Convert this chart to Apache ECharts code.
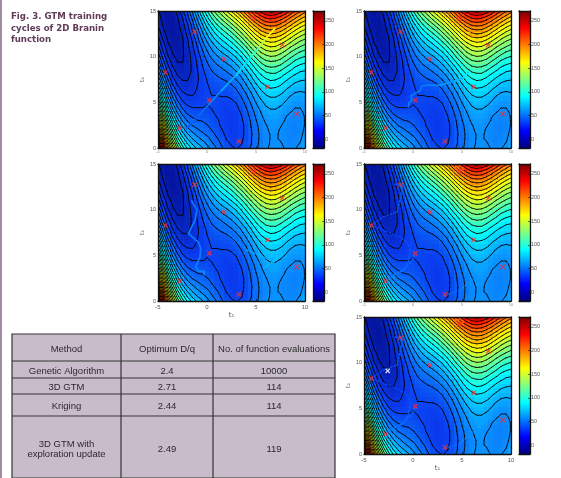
<!DOCTYPE html>
<html>
<head>
<meta charset="utf-8">
<style>
html,body{margin:0;padding:0;background:#fff}
#c{width:561px;height:478px;filter:blur(0.35px)}
</style>
<script src="https://cdn.jsdelivr.net/npm/echarts@6/dist/echarts.min.js"></script>
</head>
<body>
<div id="c"></div>
<script>
// Heights read across the map: one list per t1 column (-5 to 10, step .5), t2 from 0 to 15, step .5
const t1Columns=[-5,-4.5,-4,-3.5,-3,-2.5,-2,-1.5,-1,-.5,0,.5,1,1.5,2,2.5,3,3.5,4,4.5,5,5.5,6,6.5,7,7.5,8,8.5,9,9.5,10];
const t2Rows=[0,.5,1,1.5,2,2.5,3,3.5,4,4.5,5,5.5,6,6.5,7,7.5,8,8.5,9,9.5,10,10.5,11,11.5,12,12.5,13,13.5,14,14.5,15];
const fieldValues=[
[283,266,250,234,218,203,189,175,162,149,136,124,113,102,92,82,72,63,55,47,39,32,26,20,15,10,5,1,-2,-5,-7],
[234,219,204,189,175,162,149,136,124,113,102,91,81,72,63,54,46,38,31,25,19,13,8,4,0,-4,-7,-9,-11,-13,-14],
[192,178,164,151,138,126,114,103,93,82,73,64,55,47,39,32,25,19,13,8,3,-1,-4,-8,-10,-13,-14,-15,-16,-16,-16],
[157,144,131,119,108,97,87,77,67,58,50,42,35,28,21,15,10,5,1,-3,-7,-9,-12,-14,-15,-16,-16,-16,-16,-15,-13],
[128,116,105,94,84,75,65,57,48,41,34,27,21,15,10,5,1,-3,-6,-9,-11,-12,-14,-14,-15,-14,-13,-12,-10,-8,-5],
[106,96,86,76,67,58,50,43,36,29,23,18,13,8,4,1,-2,-5,-7,-9,-10,-10,-10,-10,-9,-7,-5,-3,0,4,8],
[90,81,72,63,55,48,41,34,28,23,18,14,10,6,3,1,-1,-3,-3,-4,-4,-3,-2,-1,1,4,7,10,15,19,24],
[78,70,62,55,48,41,35,30,25,21,17,13,10,8,6,5,4,3,3,4,5,6,9,11,14,18,22,26,31,37,43],
[70,62,55,49,43,37,32,28,24,21,18,15,13,12,11,10,10,11,12,13,15,18,21,24,28,33,38,44,50,56,63],
[63,56,50,44,39,35,31,27,24,21,19,18,17,16,16,16,17,19,21,23,26,29,33,38,43,48,54,60,67,75,83],
[56,50,45,40,36,32,29,26,24,22,21,20,20,20,21,22,24,26,29,32,36,40,45,50,56,62,69,76,84,92,101],
[48,43,39,35,31,28,26,24,22,21,21,21,22,23,24,26,29,32,35,39,44,49,54,60,67,74,81,89,98,107,116],
[41,36,33,29,27,24,23,21,20,20,20,21,22,24,26,29,32,36,40,45,50,56,62,69,76,84,92,101,110,119,130],
[33,30,27,24,22,20,19,18,18,19,19,21,23,25,28,31,35,39,44,50,55,62,69,76,84,92,101,110,120,130,141],
[27,24,21,19,18,17,16,16,16,17,19,21,23,26,29,33,38,43,48,54,60,67,75,83,91,100,109,119,130,141,152],
[23,20,18,17,15,15,15,15,16,18,20,22,25,28,32,37,42,47,53,59,66,74,82,90,99,108,118,129,140,151,163],
[21,19,17,16,16,16,16,17,18,20,22,25,29,32,37,42,47,53,59,66,73,81,90,99,108,118,128,139,150,162,175],
[23,21,20,19,19,19,20,21,23,25,27,31,34,39,43,49,54,61,67,75,82,91,99,109,118,129,139,150,162,174,187],
[27,25,24,24,24,24,25,27,29,32,35,38,42,47,52,57,63,70,77,85,93,101,110,120,130,140,151,163,175,188,201],
[33,31,31,30,31,32,33,35,37,40,43,47,51,56,61,67,73,80,87,95,104,112,122,131,142,152,164,176,188,201,214],
[39,38,38,38,38,39,41,43,45,48,52,56,60,65,71,77,83,90,97,105,114,123,132,142,153,164,175,187,200,213,226],
[46,45,44,44,45,46,48,50,52,56,59,63,68,73,79,85,91,98,106,114,123,132,141,151,162,173,185,197,209,222,236],
[50,50,49,49,50,51,53,55,58,61,64,69,73,78,84,90,97,104,112,120,128,138,147,157,168,179,191,203,216,229,242],
[53,52,52,52,53,54,55,58,60,63,67,71,76,81,87,93,99,106,114,122,131,140,150,160,170,182,193,205,218,231,245],
[54,53,52,52,53,54,56,58,60,63,67,71,75,80,86,92,99,106,113,121,130,139,149,159,169,180,192,204,216,229,243],
[53,52,51,51,51,52,54,56,58,61,64,68,73,78,83,89,95,102,110,118,126,135,144,154,165,176,187,199,211,224,238],
[51,50,49,49,49,50,51,52,55,57,61,64,69,73,78,84,90,97,104,112,120,129,138,148,158,169,180,192,204,217,230],
[50,48,47,47,47,47,48,50,52,54,57,60,64,69,74,79,85,92,99,106,114,122,131,141,151,161,172,184,195,208,221],
[51,49,48,47,46,46,47,48,50,52,54,58,61,65,70,75,81,87,93,100,108,116,125,134,143,154,164,175,187,199,212],
[54,52,50,49,48,48,48,49,50,52,54,57,60,64,68,73,78,83,90,96,104,111,120,128,137,147,157,168,179,191,203],
[61,58,56,54,53,52,52,52,53,54,56,58,61,64,68,72,77,82,88,94,101,108,116,124,133,142,152,162,173,184,196]
];
const contourLevels=[-8.5,1.5,11.5,21.5,31.5,41.5,51.5,61.5,71.5,81.5,91.5,101.5,111.5,121.5,131.5,141.5,151.5,161.5,171.5,181.5,191.5,201.5,211.5,221.5,231.5,241.5,251.5,261.5,271.5];
const sampleT1=[-1.27,4.74,7.69,1.72,-4.25,6.2,.23,9.15,-2.79,3.25];
const sampleT2=[12.73,14.2,11.27,9.73,8.27,6.7,5.23,3.73,2.2,.73];
const optimumT1=[-2.58];
const optimumT2=[9.1];
const colorbarTicks=[0,50,100,150,200,250];
// search paths: [t1, t2, height shown by the line colour]
const pathCycle1=[[-2.07,2.15,28],[-.8,3.6,34],[.2,4.8,40],[1.5,6.3,52],[3,8,68],[4.5,10,88],[5.3,11,120],[6,12,150],[6.94,13.1,175]];
const pathCycle2=[[-.47,4.5,42],[-.4,4.94,44],[-.1,5.3,44],[-.23,5.67,42],[.2,5.96,40],[.73,6.26,40],[.9,6.77,40],[1.58,6.88,42],[2.77,6.88,48],[4.3,7.35,60],[5.16,7.72,72],[5.67,8.34,88]];
const pathCycle2End=[[5.7,12.9,190],[5.85,12.55,195],[6.05,12.2,190]];
const pathCycle3=[[-.3,2.9,50],[-.3,3.26,50],[-.87,3.26,48],[-1.15,3.74,46],[-.7,4.84,44],[-.64,5.76,42],[-.87,6.42,42],[-1.9,7.41,44],[-1.2,8.88,44],[-1.05,9.98,42],[-1.56,10.97,40]];
const pathCycle3Faint=[[1,8.3,45],[2.36,7.2,48],[4.07,5.57,58],[6.8,4.3,72],[7.8,5.2,78],[5.77,3.55,62]];
const pathCycle4Right=[[7.89,4.1,65],[6.5,2.8,58],[4.8,1.17,45],[3.3,.62,30]];
const pathCycle4Left=[[-2.85,2.16,50],[-2,2.8,42],[-1,3.37,38],[-.47,4.3,36],[-.3,5.57,30],[-.47,6.3,28],[-1.3,7,24],[-2.85,7.66,18],[-4.2,8.3,25],[-3,9.24,18],[-1.66,9.7,30],[-.98,12.7,30],[-1.83,12.8,32]];
const pathCycle4Mid=[[.2,5,34],[-.25,4.2,36],[-1.1,3.3,38],[-2,2.8,40]];
const pathCycle4Top=[[4.3,14.7,200],[4.7,14.2,205],[5.1,14.4,210],[4.8,14.8,205],[4.3,14.7,200]];
const tableHeader=['Method','Optimum D/q','No. of function evaluations'];
const tableMethods=['Genetic Algorithm','3D GTM','Kriging','3D GTM with\nexploration update'];
const tableOptimum=['2.4','2.71','2.44','2.49'];
const tableEvaluations=['10000','114','114','119'];

const jet=['#00007f','#0000ff','#007fff','#00ffff','#7fff7f','#ffff00','#ff7f00','#ff0000','#7f0000'];
const fieldJet=['#04129a','#0a3cf0','#0a93ff','#00ffff','#7fff7f','#ffff00','#ff7f00','#ff0000','#7f0000'];
const colorMin=-19,colorMax=271;
const panels=[
 {x:158,y:11,w:147,h:137,cx:313,xName:false,xFont:4,paths:[[pathCycle1,null]]},
 {x:364,y:11,w:147,h:137,cx:519,xName:false,xFont:4,paths:[[pathCycle2,null],[pathCycle2End,[1.5,1]]]},
 {x:158,y:164,w:147,h:137,cx:313,xName:true,xFont:6,paths:[[pathCycle3,null],[pathCycle3Faint,[1.5,2]]]},
 {x:364,y:164,w:147,h:137,cx:519,xName:false,xFont:4,paths:[[pathCycle4Left,[1.5,2]],[pathCycle4Mid,[1.5,2]],[pathCycle4Right,[1.5,2]],[pathCycle4Top,[1.5,1.5]]]},
 {x:364,y:317,w:147,h:137,cx:519,xName:true,xFont:6,optimum:true,paths:[[pathCycle4Left,[1.5,2]],[pathCycle4Mid,[1.5,2]],[pathCycle4Right,[1.5,2]],[pathCycle4Top,[1.5,1.5]]]}
];

// contour segments through the read heights
function contourSegments(){
 const out=[];
 const cross=(x0,y0,v0,x1,y1,v1,l)=>{const k=(l-v0)/(v1-v0);return [x0+(x1-x0)*k,y0+(y1-y0)*k];};
 contourLevels.forEach(l=>{
  for(let i=0;i<t1Columns.length-1;i++)for(let j=0;j<t2Rows.length-1;j++){
   const x0=t1Columns[i],x1=t1Columns[i+1],y0=t2Rows[j],y1=t2Rows[j+1];
   const a=fieldValues[i][j],b=fieldValues[i+1][j],c=fieldValues[i+1][j+1],d=fieldValues[i][j+1];
   const p=[];
   if((a<l)!==(b<l))p.push(cross(x0,y0,a,x1,y0,b,l));
   if((b<l)!==(c<l))p.push(cross(x1,y0,b,x1,y1,c,l));
   if((d<l)!==(c<l))p.push(cross(x0,y1,d,x1,y1,c,l));
   if((a<l)!==(d<l))p.push(cross(x0,y0,a,x0,y1,d,l));
   for(let k=0;k+1<p.length;k+=2){out.push([p[k][0],p[k][1],p[k+1][0],p[k+1][1]]);}
  }
 });
 return out;
}
const contourData=contourSegments();
const fieldData=[];
t1Columns.forEach((x,i)=>t2Rows.forEach((y,j)=>fieldData.push([x,y,fieldValues[i][j]])));

const grids=[],xAxes=[],yAxes=[],series=[],fieldIdx=[],pathIdx=[];
const baseAxis={type:'value',z:5,splitLine:{show:false}};
const frame={onZero:false,lineStyle:{color:'#111',width:1.3}};
panels.forEach((p,i)=>{
 grids.push({left:p.x,top:p.y,width:p.w,height:p.h});
 xAxes.push(Object.assign({},baseAxis,{gridIndex:i,position:'bottom',min:-5,max:10,interval:5,axisLine:frame,
  axisTick:{inside:true,length:2,lineStyle:{color:'#111',width:.6}},
  axisLabel:{fontSize:p.xFont,color:p.xFont>4?'#555':'#888',margin:p.xFont>4?3:2,fontFamily:'Liberation Sans'},
  name:p.xName?'t\u2081':'',nameLocation:'middle',nameGap:11,nameTextStyle:{fontSize:7,color:'#555',fontFamily:'DejaVu Sans'}}));
 xAxes.push(Object.assign({},baseAxis,{gridIndex:i,position:'top',min:-5,max:10,interval:5,axisLine:frame,axisTick:{show:false},axisLabel:{show:false}}));
 yAxes.push(Object.assign({},baseAxis,{gridIndex:i,position:'left',min:0,max:15,interval:5,axisLine:frame,
  axisTick:{inside:true,length:2,lineStyle:{color:'#111',width:.6}},
  axisLabel:{fontSize:5.5,color:'#555',margin:2,fontFamily:'Liberation Sans'},
  name:'t\u2082',nameLocation:'middle',nameRotate:90,nameGap:13,nameTextStyle:{fontSize:6,color:'#555',fontFamily:'DejaVu Sans'}}));
 yAxes.push(Object.assign({},baseAxis,{gridIndex:i,position:'right',min:0,max:15,interval:5,axisLine:frame,axisTick:{show:false},axisLabel:{show:false}}));
 const xi=xAxes.length-2,yi=yAxes.length-2;
 fieldIdx.push(series.length);
 series.push({type:'custom',xAxisIndex:xi,yAxisIndex:yi,data:fieldData,encode:{x:0,y:1},clip:true,z:1,silent:true,progressive:0,animation:false,
  renderItem(params,api){
   const x=api.value(0),y=api.value(1),a=api.coord([x-.25,y+.25]),b=api.coord([x+.25,y-.25]);
   const cs=params.coordSys;
   const l=Math.floor(a[0]),t=Math.floor(a[1]),r=Math.ceil(b[0]),bm=Math.ceil(b[1]);
   const shape=echarts.graphic.clipRectByRect({x:l,y:t,width:r-l,height:bm-t},{x:cs.x,y:cs.y,width:cs.width,height:cs.height});
   return shape&&{type:'rect',shape,style:{fill:api.visual('color')}};
  }});
 series.push({type:'custom',xAxisIndex:xi,yAxisIndex:yi,data:contourData,encode:{x:[0,2],y:[1,3]},clip:true,z:2,silent:true,progressive:0,animation:false,
  renderItem(params,api){
   const a=api.coord([api.value(0),api.value(1)]),b=api.coord([api.value(2),api.value(3)]);
   return {type:'line',shape:{x1:a[0],y1:a[1],x2:b[0],y2:b[1]},style:{stroke:'#000',lineWidth:1,lineCap:'round',opacity:.85}};
  }});
 p.paths.forEach(pp=>{
  const pts=pp[0],dash=pp[1],segs=[];
  for(let k=0;k+1<pts.length;k++)segs.push([pts[k][0],pts[k][1],pts[k+1][0],pts[k+1][1],(pts[k][2]+pts[k+1][2])/2]);
  pathIdx.push(series.length);
  series.push({type:'custom',xAxisIndex:xi,yAxisIndex:yi,data:segs,encode:{x:[0,2],y:[1,3]},clip:true,z:3,silent:true,animation:false,
   renderItem(params,api){
    const a=api.coord([api.value(0),api.value(1)]),b=api.coord([api.value(2),api.value(3)]);
    return {type:'line',shape:{x1:a[0],y1:a[1],x2:b[0],y2:b[1]},style:{stroke:api.visual('color'),lineWidth:dash?1.3:1.8,lineDash:dash||null,lineCap:'round'}};
   }});
 });
 series.push({type:'scatter',xAxisIndex:xi,yAxisIndex:yi,data:sampleT1.map((v,k)=>[v,sampleT2[k]]),symbol:'path://M0 0L10 10M10 0L0 10',symbolSize:4.4,z:4,silent:true,animation:false,
  itemStyle:{color:'transparent',borderColor:'#ff2a2a',borderWidth:1.3}});
 if(p.optimum)series.push({type:'scatter',xAxisIndex:xi,yAxisIndex:yi,data:optimumT1.map((v,k)=>[v,optimumT2[k]]),symbol:'path://M0 0L10 10M10 0L0 10',symbolSize:4.2,z:4,silent:true,animation:false,
  itemStyle:{color:'transparent',borderColor:'#ffffff',borderWidth:1.4}});
});
// colour bars
panels.forEach((p,i)=>{
 const g=grids.length;
 grids.push({left:p.cx,top:p.y,width:11,height:p.h,show:true,borderWidth:0,
  backgroundColor:new echarts.graphic.LinearGradient(0,1,0,0,jet.map((c,k)=>({offset:k/(jet.length-1),color:c})))});
 xAxes.push(Object.assign({},baseAxis,{gridIndex:g,position:'bottom',min:0,max:1,axisLine:frame,axisTick:{show:false},axisLabel:{show:false}}));
 xAxes.push(Object.assign({},baseAxis,{gridIndex:g,position:'top',min:0,max:1,axisLine:frame,axisTick:{show:false},axisLabel:{show:false}}));
 yAxes.push(Object.assign({},baseAxis,{gridIndex:g,position:'left',min:colorMin,max:colorMax,axisLine:frame,axisTick:{show:false},axisLabel:{show:false}}));
 yAxes.push(Object.assign({},baseAxis,{gridIndex:g,position:'right',min:colorMin,max:colorMax,axisLine:frame,
  axisTick:{inside:true,length:2,customValues:colorbarTicks,lineStyle:{color:'#111',width:.6}},
  axisLabel:{customValues:colorbarTicks,fontSize:5.5,color:'#555',margin:1,fontFamily:'Liberation Sans',showMinLabel:true,showMaxLabel:true}}));
});

// table + page furniture
const colX=[12,121,213,335];
const rowY=[334,361,378,394,416,478];
const graphic=[{type:'rect',shape:{x:0,y:0,width:2,height:478},style:{fill:'#a48ca3'}}];
graphic.push({type:'rect',shape:{x:colX[0],y:rowY[0],width:colX[3]-colX[0],height:rowY[5]-rowY[0]},style:{fill:'#c8bccb',stroke:'#333',lineWidth:1.2}});
rowY.slice(1,5).forEach(y=>graphic.push({type:'line',shape:{x1:colX[0],y1:y,x2:colX[3],y2:y},style:{stroke:'#333',lineWidth:1.2}}));
colX.slice(1,3).forEach(x=>graphic.push({type:'line',shape:{x1:x,y1:rowY[0],x2:x,y2:478},style:{stroke:'#333',lineWidth:1.2}}));
const cellText=(s,c,r)=>graphic.push({type:'text',x:(colX[c]+colX[c+1])/2,y:r===3?449.5:(r<0?349:[371,387,406][r]),
 style:{text:s,textAlign:'center',textVerticalAlign:'middle',fill:'#2a2a2a',fontSize:9.5,lineHeight:10.5,fontFamily:'Liberation Sans'}});
tableHeader.forEach((s,c)=>cellText(s,c,-1));
tableMethods.forEach((s,r)=>cellText(s,0,r));
tableOptimum.forEach((s,r)=>cellText(s,1,r));
tableEvaluations.forEach((s,r)=>cellText(s,2,r));

const chart=echarts.init(document.getElementById('c'),null,{renderer:'canvas'});
chart.setOption({
 animation:false,backgroundColor:'#fff',
 title:{text:'Fig. 3. GTM training\ncycles of 2D Branin\nfunction',left:11,top:11,padding:0,
  textStyle:{fontFamily:'DejaVu Sans',fontWeight:'bold',fontSize:8.6,lineHeight:11.7,color:'#5f3b58'}},
 grid:grids,xAxis:xAxes,yAxis:yAxes,series,graphic,
 visualMap:[
  {show:false,type:'continuous',min:colorMin,max:colorMax,dimension:2,seriesIndex:fieldIdx,inRange:{color:fieldJet}},
  {show:false,type:'continuous',min:colorMin,max:colorMax,dimension:4,seriesIndex:pathIdx,inRange:{color:fieldJet}}
 ]
});
</script>
</body>
</html>
